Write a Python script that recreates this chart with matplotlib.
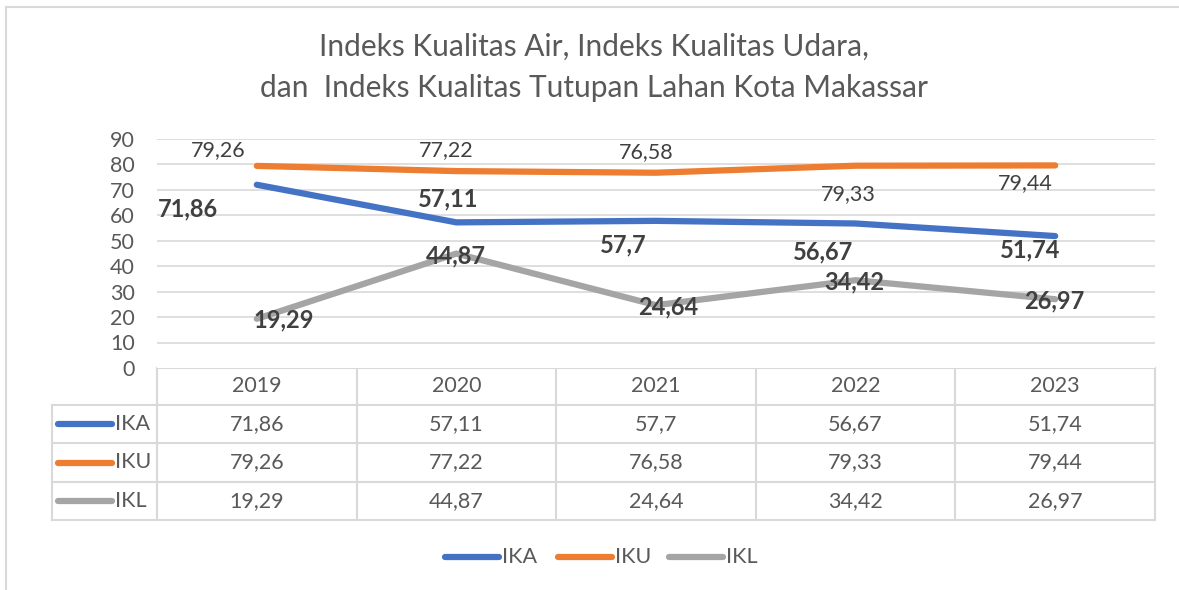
import numpy as np
import matplotlib
matplotlib.use("Agg")
import matplotlib.pyplot as plt
from matplotlib.lines import Line2D

plt.rcParams['font.family'] = ['Lato', 'DejaVu Sans']

years = ["2019", "2020", "2021", "2022", "2023"]
series_names = ["IKA", "IKU", "IKL"]
ika = [71.86, 57.11, 57.7, 56.67, 51.74]
iku = [79.26, 77.22, 76.58, 79.33, 79.44]
ikl = [19.29, 44.87, 24.64, 34.42, 26.97]
yticks = [0, 10, 20, 30, 40, 50, 60, 70, 80, 90]

colors = ["#4472C4", "#ED7D31", "#A5A5A5"]
grid_c = "#D9D9D9"
txt_c = "#595959"
lab_c = "#404040"

# label offsets in pixels (dx, dy) for each series, picked by eye
offs = {
    "IKA": [(-69, -24), (-8, 23), (-33, -24), (-33, -28), (-25, -14)],
    "IKU": [(-39, 16), (-10, 21), (-10, 21), (-7, -28), (-30, -18)],
    "IKL": [(27, -1), (0, -2), (12, -2), (-1, -2), (-1, -2)],
}
bold = {"IKA": True, "IKU": False, "IKL": True}

def fmt(v):
    return ("%g" % v).replace(".", ",")

W, H = 1179, 590
fs = 15.5
fig = plt.figure(figsize=(W / 100, H / 100), dpi=100)

# frame of the chart area (left and top only visible)
fig.add_artist(Line2D([6 / W, 6 / W], [0, 1 - 7 / H], color=grid_c, lw=1.5))
fig.add_artist(Line2D([6 / W, 1], [1 - 7 / H, 1 - 7 / H], color=grid_c, lw=1.5))

fig.text(594 / W, 1 - 47 / H, "Indeks Kualitas Air, Indeks Kualitas Udara,",
         ha="center", va="center", fontsize=21.5, color=txt_c)
fig.text(594 / W, 1 - 88 / H, "dan  Indeks Kualitas Tutupan Lahan Kota Makassar",
         ha="center", va="center", fontsize=21.5, color=txt_c)

# main plot
x0, x1, ytop, ybot = 157, 1155, 138.5, 368
ax = fig.add_axes([x0 / W, 1 - ybot / H, (x1 - x0) / W, (ybot - ytop) / H])
ax.set_xlim(-0.5, 4.5)
ax.set_ylim(0, 90)
ax.set_yticks(yticks)
ax.set_yticklabels([str(t) for t in yticks])
ax.set_xticks([])
ax.tick_params(axis="y", length=0, pad=16, labelsize=fs, labelcolor=txt_c)
for s in ax.spines.values():
    s.set_visible(False)
for t in yticks[1:]:
    ax.axhline(t, color=grid_c, lw=1.2, zorder=0)

xs = np.arange(len(years))
data = {"IKA": ika, "IKU": iku, "IKL": ikl}
for name, c in zip(series_names, colors):
    vals = data[name]
    ax.plot(xs, vals, color=c, lw=4.5, solid_capstyle="round", zorder=3)
    for i, v in enumerate(vals):
        ax.annotate(fmt(v), (xs[i], v), xytext=offs[name][i], textcoords="offset pixels",
                    ha="center", va="center", fontsize=17 if bold[name] else fs,
                    fontweight="bold" if bold[name] else "normal", color=lab_c, zorder=4)

# data table drawn in pixel coords
tab = fig.add_axes([0, 0, 1, 1], zorder=-1)
tab.set_xlim(0, W)
tab.set_ylim(H, 0)
tab.axis("off")
col_x = [157, 357, 556, 756, 955, 1155]
row_y = [368, 405, 443, 482, 520]
lw_t = 1.5
# horizontal lines
tab.plot([157, 1155], [368, 368], color=grid_c, lw=lw_t)
for y in row_y[1:]:
    tab.plot([52, 1155], [y, y], color=grid_c, lw=lw_t)
# vertical lines
for x in col_x:
    tab.plot([x, x], [368, 520], color=grid_c, lw=lw_t)
tab.plot([52, 52], [405, 520], color=grid_c, lw=lw_t)

for j, yr in enumerate(years):
    cx = (col_x[j] + col_x[j + 1]) / 2
    tab.text(cx, (row_y[0] + row_y[1]) / 2, yr, ha="center", va="center",
             fontsize=fs, color=txt_c)
    for r, name in enumerate(series_names):
        tab.text(cx, (row_y[r + 1] + row_y[r + 2]) / 2, fmt(data[name][j]),
                 ha="center", va="center", fontsize=fs, color=txt_c)

for r, (name, c) in enumerate(zip(series_names, colors)):
    yc = (row_y[r + 1] + row_y[r + 2]) / 2
    tab.plot([58, 112], [yc, yc], color=c, lw=4.5, solid_capstyle="round")
    tab.text(115, yc, name, ha="left", va="center", fontsize=fs, color=txt_c)

# bottom legend
leg_x = [444, 557, 668]
for lx, name, c in zip(leg_x, series_names, colors):
    tab.plot([lx + 1, lx + 55], [557, 557], color=c, lw=4.5, solid_capstyle="round")
    tab.text(lx + 58, 557, name, ha="left", va="center", fontsize=fs, color=txt_c)

fig.savefig("out.png", dpi=100)
